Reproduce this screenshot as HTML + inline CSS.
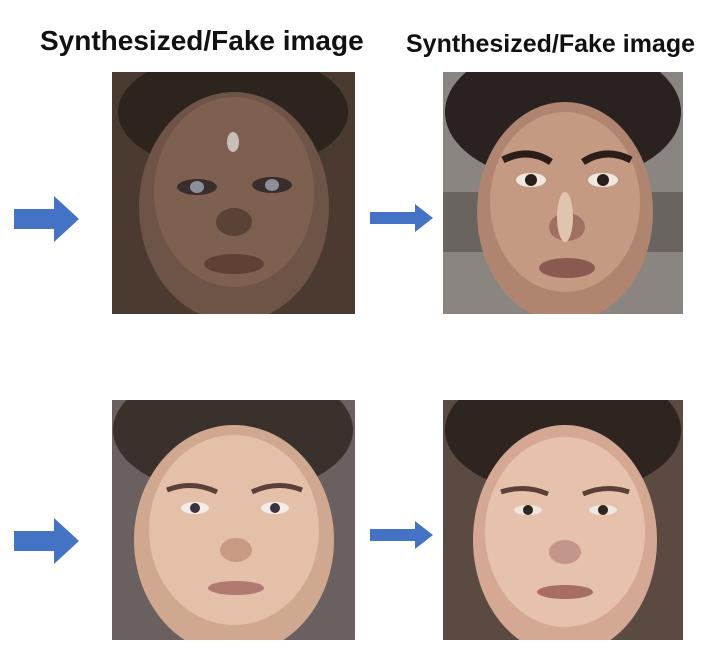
<!DOCTYPE html>
<html><head><meta charset="utf-8"><style>
body{margin:0;width:716px;height:662px;background:#fff;position:relative;overflow:hidden;font-family:"Liberation Sans",sans-serif}
.t{position:absolute;font-weight:bold;color:#111;white-space:nowrap;overflow:hidden}
.img{position:absolute;overflow:hidden}
.arrow{position:absolute}
</style></head><body>
<div class="t" style="left:40px;top:25px;font-size:28px;width:332px">Synthesized/Fake image</div>
<div class="t" style="left:406px;top:30px;font-size:25px;width:310px">Synthesized/Fake image</div>

<svg class="arrow" style="left:14px;top:196px" width="66" height="46"><polygon points="0,13 40,13 40,0 65,23 40,46 40,33 0,33" fill="#4472C4"/></svg>
<svg class="arrow" style="left:14px;top:518px" width="66" height="46"><polygon points="0,13 40,13 40,0 65,23 40,46 40,33 0,33" fill="#4472C4"/></svg>
<svg class="arrow" style="left:370px;top:204px" width="64" height="28"><polygon points="0,8 45,8 45,0 63,14 45,28 45,20 0,20" fill="#4472C4"/></svg>
<svg class="arrow" style="left:370px;top:521px" width="64" height="28"><polygon points="0,8 45,8 45,0 63,14 45,28 45,20 0,20" fill="#4472C4"/></svg>

<svg class="img" style="left:112px;top:72px" width="243" height="242">
<rect width="243" height="242" fill="#4a3a30"/>
<ellipse cx="121" cy="40" rx="115" ry="60" fill="#2e241e"/>
<ellipse cx="122" cy="135" rx="95" ry="115" fill="#6e5446"/>
<ellipse cx="122" cy="120" rx="80" ry="95" fill="#7d6050"/>
<ellipse cx="85" cy="115" rx="20" ry="8" fill="#3a2e2a"/><ellipse cx="160" cy="113" rx="20" ry="8" fill="#3a2e2a"/>
<ellipse cx="85" cy="115" rx="7" ry="6" fill="#8a8f99"/><ellipse cx="160" cy="113" rx="7" ry="6" fill="#8a8f99"/>
<ellipse cx="122" cy="150" rx="18" ry="14" fill="#5a4236"/>
<ellipse cx="122" cy="192" rx="30" ry="10" fill="#5e4035"/>
<ellipse cx="121" cy="70" rx="6" ry="10" fill="#c8c0b8"/>
</svg>

<svg class="img" style="left:443px;top:72px" width="240" height="242">
<rect width="240" height="242" fill="#8a8580"/>
<rect y="120" width="240" height="60" fill="#6a6460"/>
<ellipse cx="120" cy="40" rx="118" ry="70" fill="#2a2220"/>
<ellipse cx="122" cy="140" rx="88" ry="110" fill="#b08570"/>
<ellipse cx="122" cy="130" rx="75" ry="90" fill="#c49a82"/>
<path d="M60 88 Q85 75 108 90 M140 90 Q163 75 188 88" stroke="#2a1e1a" stroke-width="7" fill="none"/>
<ellipse cx="88" cy="108" rx="15" ry="7" fill="#f0e8e0"/><ellipse cx="160" cy="108" rx="15" ry="7" fill="#f0e8e0"/>
<circle cx="88" cy="108" r="6" fill="#2a1e1a"/><circle cx="160" cy="108" r="6" fill="#2a1e1a"/>
<ellipse cx="124" cy="155" rx="18" ry="14" fill="#a07060"/>
<ellipse cx="124" cy="196" rx="28" ry="10" fill="#8a5a50"/>
<ellipse cx="122" cy="145" rx="8" ry="25" fill="#e0c4b0"/>
</svg>

<svg class="img" style="left:112px;top:400px" width="243" height="240">
<rect width="243" height="240" fill="#6a6060"/>
<ellipse cx="121" cy="30" rx="120" ry="65" fill="#3a302c"/>
<ellipse cx="122" cy="140" rx="100" ry="115" fill="#d0a890"/>
<ellipse cx="122" cy="130" rx="85" ry="95" fill="#e4c0a8"/>
<path d="M55 90 Q80 80 105 92 M140 92 Q165 80 190 90" stroke="#5a4038" stroke-width="5" fill="none"/>
<ellipse cx="83" cy="108" rx="14" ry="6" fill="#f4ece6"/><ellipse cx="163" cy="108" rx="14" ry="6" fill="#f4ece6"/>
<circle cx="83" cy="108" r="5" fill="#3a3040"/><circle cx="163" cy="108" r="5" fill="#3a3040"/>
<ellipse cx="124" cy="150" rx="16" ry="12" fill="#c89a84"/>
<ellipse cx="124" cy="188" rx="28" ry="7" fill="#b07a70"/>
</svg>

<svg class="img" style="left:443px;top:400px" width="240" height="240">
<rect width="240" height="240" fill="#5a4a42"/>
<ellipse cx="120" cy="30" rx="118" ry="65" fill="#2e2420"/>
<ellipse cx="122" cy="140" rx="92" ry="115" fill="#d4a892"/>
<ellipse cx="122" cy="132" rx="80" ry="95" fill="#e6c2ac"/>
<path d="M58 92 Q82 84 105 94 M140 94 Q163 84 186 92" stroke="#5a4038" stroke-width="5" fill="none"/>
<ellipse cx="85" cy="110" rx="14" ry="5" fill="#f0e6e0"/><ellipse cx="160" cy="110" rx="14" ry="5" fill="#f0e6e0"/>
<circle cx="85" cy="110" r="5" fill="#2e2420"/><circle cx="160" cy="110" r="5" fill="#2e2420"/>
<ellipse cx="122" cy="152" rx="16" ry="12" fill="#c4968a"/>
<ellipse cx="122" cy="192" rx="28" ry="7" fill="#a86e66"/>
</svg>
</body></html>
